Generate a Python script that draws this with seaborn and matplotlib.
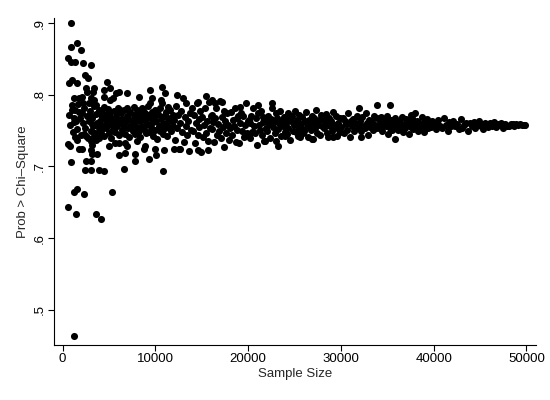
import pandas as pd
import matplotlib
matplotlib.use("Agg")
import matplotlib.pyplot as plt
import seaborn as sns

# --- values ---

# small samples, upper side
n_early = [935, 1580, 935, 2010, 540, 860, 1290, 2225, 3085, 2400,
           2720, 680, 1040, 1580, 4805, 2470, 2650, 3365, 3260, 4440,
           5160, 6050, 5800, 6955, 9385, 10720, 11070, 1215, 1750, 2120,
           3010, 3365, 4440, 5160, 5410, 8200, 9640, 9460, 10640, 2830,
           3550, 4440, 1040, 1750, 1215, 3010, 3900, 4270, 4980, 6235,
           5880, 6955, 7665, 8030, 8570, 8920, 10000, 10720, 11395]
p_early = [.900, .872, .866, .862, .851, .846, .846, .844, .841, .828,
           .823, .816, .821, .817, .818, .809, .804, .809, .804, .807,
           .809, .804, .802, .803, .807, .811, .802, .795, .796, .797,
           .795, .793, .797, .793, .795, .797, .795, .788, .793, .788,
           .786, .783, .779, .776, .767, .770, .774, .769, .776, .779,
           .774, .781, .783, .779, .781, .774, .779, .788, .783]

# small samples, lower side
n_low = [1215, 3120, 4270, 4620, 5160, 570, 750, 1580, 2290, 2550,
         1750, 2120, 3010, 3190, 3550, 3010, 3190, 3730, 3900, 4085,
         4980, 5700, 6050, 6770, 6955, 6050, 6770, 7850, 8030, 8740,
         8920, 10000, 10100, 10890, 11965, 860, 2550, 3010, 2400, 3010,
         3900, 4440, 6590, 7850, 9280, 10830, 1215, 1500, 2290, 5270,
         610, 1470, 3550, 4160, 1215]
p_low = [.762, .759, .755, .758, .762, .731, .729, .737, .745, .743,
         .725, .724, .735, .730, .737, .723, .718, .718, .740, .744,
         .728, .732, .733, .732, .729, .716, .719, .718, .735, .725,
         .728, .725, .716, .723, .725, .706, .707, .707, .695, .695,
         .695, .694, .696, .707, .710, .694, .665, .669, .662, .665,
         .643, .633, .633, .627, .463]

# core of the cloud below 12000
n_fill = [640, 820, 980, 1130, 1290, 1420, 1560, 1700, 1820, 1950,
          2080, 2200, 2330, 2460, 2580, 2700, 2810, 2940, 3060, 3180,
          3300, 3420, 3530, 3640, 3760, 3880, 3950, 2150, 1380, 3350,
          4060, 4150, 4240, 4330, 4420, 4510, 4600, 4700, 4790, 4880,
          4970, 5060, 5150, 5250, 5340, 5430, 5520, 5610, 5700, 5800,
          5890, 5980, 6070, 6160, 6260, 6350, 6440, 6530, 6630, 6720,
          6810, 6900, 7000, 7090, 7180, 7280, 7370, 7470, 7560, 7650,
          7740, 7830, 7930, 8020, 8110, 8210, 8300, 8390, 8490, 8580,
          8670, 8770, 8860, 8950, 9050, 9140, 9230, 9330, 9420, 9510,
          9610, 9700, 9790, 9890, 9980, 10070, 10170, 10260, 10350, 10450,
          10540, 10630, 10730, 10820, 10910, 11010, 11100, 11190, 11290, 11380,
          11470, 11570, 11660, 11750, 11850, 11940]
p_fill = [.772, .758, .785, .748, .779, .763, .752, .787, .768, .744,
          .775, .760, .781, .753, .770, .739, .764, .778, .750, .767,
          .757, .784, .746, .773, .761, .753, .779, .789, .741, .742,
          .763, .749, .776, .757, .768, .742, .771, .753, .764, .780,
          .746, .759, .771, .740, .765, .752, .777, .760, .748, .769,
          .756, .782, .744, .763, .774, .751, .766, .758, .779, .745,
          .762, .770, .753, .767, .741, .776, .757, .764, .749, .772,
          .760, .745, .768, .755, .774, .750, .763, .741, .770, .757,
          .779, .752, .765, .746, .772, .759, .784, .748, .767, .755,
          .776, .743, .762, .769, .751, .764, .738, .773, .756, .781,
          .749, .766, .758, .745, .771, .753, .776, .761, .742, .768,
          .755, .779, .750, .764, .757, .772]

# stray points around the band
n_out = [15480, 14590, 16090, 16450, 17170, 19135, 21040, 22540, 31930, 33940,
         35260, 37950, 37590, 12640, 14610, 15700, 21820, 23250, 23970, 25400,
         26910, 29170, 32140, 35800, 12300]
p_out = [.798, .790, .793, .788, .790, .783, .786, .788, .781, .786,
         .786, .775, .772, .725, .723, .723, .736, .729, .742, .743,
         .738, .741, .741, .738, .800]

# 12000 - 30000
n_mid = [12050, 12150, 12250, 12350, 12450, 12550, 12650, 12750, 12850, 12950,
         13050, 13150, 13250, 13350, 13450, 13550, 13650, 13750, 13850, 13950,
         14050, 14150, 14250, 14350, 14450, 14550, 14650, 14750, 14850, 14950,
         15050, 15150, 15250, 15350, 15450, 15550, 15650, 15750, 15850, 15950,
         16050, 16150, 16250, 16350, 16450, 16550, 16650, 16750, 16850, 16950,
         17050, 17150, 17250, 17350, 17450, 17550, 17650, 17750, 17850, 17950,
         18050, 18150, 18250, 18350, 18450, 18550, 18650, 18750, 18850, 18950,
         19050, 19150, 19250, 19350, 19450, 19550, 19650, 19750, 19850, 19950,
         20050, 20150, 20250, 20350, 20450, 20550, 20650, 20750, 20850, 20950,
         21050, 21150, 21250, 21350, 21450, 21550, 21650, 21750, 21850, 21950,
         22050, 22150, 22250, 22350, 22450, 22550, 22650, 22750, 22850, 22950,
         23050, 23150, 23250, 23350, 23450, 23550, 23650, 23750, 23850, 23950,
         24050, 24150, 24250, 24350, 24450, 24550, 24650, 24750, 24850, 24950,
         25050, 25150, 25250, 25350, 25450, 25550, 25650, 25750, 25850, 25950,
         26050, 26150, 26250, 26350, 26450, 26550, 26650, 26750, 26850, 26950,
         27050, 27150, 27250, 27350, 27450, 27550, 27650, 27750, 27850, 27950,
         28050, 28150, 28250, 28350, 28450, 28550, 28650, 28750, 28850, 28950,
         29050, 29150, 29250, 29350, 29450, 29550, 29650, 29750, 29850, 29950]
p_mid = [.765, .737, .784, .753, .772, .725, .760, .777, .748, .796,
         .734, .769, .756, .788, .744, .763, .721, .774, .751, .781,
         .750, .772, .733, .761, .788, .744, .766, .755, .777, .720,
         .769, .741, .758, .782, .747, .764, .736, .790, .753, .771,
         .772, .752, .762, .734, .767, .781, .744, .759, .749, .791,
         .739, .769, .755, .777, .727, .764, .747, .774, .758, .737,
         .754, .776, .744, .765, .757, .782, .734, .767, .751, .771,
         .732, .761, .774, .749, .770, .741, .758, .789, .746, .763,
         .765, .740, .760, .771, .748, .781, .756, .746, .768, .730,
         .775, .758, .751, .777, .744, .762, .769, .736, .764, .753,
         .750, .771, .759, .740, .766, .782, .755, .762, .746, .775,
         .736, .768, .752, .760, .778, .743, .765, .757, .769, .748,
         .761, .745, .774, .754, .767, .737, .763, .770, .750, .758,
         .778, .748, .765, .756, .772, .741, .759, .752, .769, .746,
         .749, .763, .776, .755, .741, .765, .759, .751, .770, .738,
         .762, .767, .753, .779, .747, .758, .765, .744, .772, .757,
         .766, .753, .760, .773, .746, .762, .741, .767, .756, .764,
         .749, .776, .755, .758, .770, .743, .761, .751, .767, .748]

# 30000 - 40000
n_late = [30060, 30190, 30310, 30440, 30560, 30690, 30810, 30940,
          31060, 31190, 31310, 31440, 31560, 31690, 31810, 31940,
          32060, 32190, 32310, 32440, 32560, 32690, 32810, 32940,
          33060, 33190, 33310, 33440, 33560, 33690, 33810, 33940,
          34060, 34190, 34310, 34440, 34560, 34690, 34810, 34940,
          35060, 35190, 35310, 35440, 35560, 35690, 35810, 35940,
          36060, 36190, 36310, 36440, 36560, 36690, 36810, 36940,
          37060, 37190, 37310, 37440, 37560, 37690, 37810, 37940,
          38060, 38190, 38310, 38440, 38560, 38690, 38810, 38940,
          39060, 39190, 39310, 39440, 39560, 39690, 39810, 39940]
p_late = [.755, .768, .746, .763, .759, .751, .774, .741,
          .764, .756, .766, .749, .761, .771, .753, .758,
          .763, .749, .769, .757, .753, .774, .760, .744,
          .765, .755, .762, .751, .771, .758, .754, .767,
          .753, .761, .769, .749, .758, .764, .756, .771,
          .745, .762, .754, .765, .751, .759, .767, .757,
          .761, .751, .764, .756, .769, .748, .759, .754,
          .766, .758, .745, .763, .755, .767, .752, .760,
          .757, .764, .750, .761, .754, .769, .759, .748,
          .763, .756, .766, .753, .760, .755, .764, .758]

# 40000 - 50000
n_end = [40100, 40300, 40500, 40700, 40900, 41100, 41300, 41500, 41700, 41900,
         42100, 42300, 42500, 42700, 42900, 43100, 43300, 43500, 43700, 43900,
         44100, 44300, 44500, 44700, 44900, 45100, 45300, 45500, 45700, 45900,
         46100, 46300, 46500, 46700, 46900, 47100, 47300, 47500, 47700, 47900,
         48100, 48300, 48500, 48700, 48900, 49100, 49300, 49500, 49700, 49900]
p_end = [.761, .752, .765, .757, .754, .768, .758, .750, .762, .756,
         .763, .756, .759, .752, .766, .754, .758, .761, .750, .760,
         .756, .7615, .754, .7594, .764, .757, .7517, .7608, .7584, .7548,
         .7604, .7567, .7621, .7545, .7585, .7577, .761, .7537, .7596, .7561,
         .7563, .7598, .7585, .7563, .759, .7576, .759, .7574, .7582, .758]

df = pd.DataFrame({
    "Sample Size": n_early + n_low + n_fill + n_out + n_mid + n_late + n_end,
    "Prob": p_early + p_low + p_fill + p_out + p_mid + p_late + p_end,
})

sns.set_style("white")
plt.rcParams["font.family"] = ["Liberation Sans", "DejaVu Sans"]

fig = plt.figure(figsize=(5.5, 4), dpi=100)
ax = fig.add_axes([0.098, 0.1375, 0.876, 0.8175])
sns.scatterplot(data=df, x="Sample Size", y="Prob", color="black",
                s=26, linewidth=0, ax=ax)

ax.set_xlim(-940, 51000)
ax.set_ylim(0.451, 0.907)
ax.set_xticks([0, 10000, 20000, 30000, 40000, 50000])
ax.set_xticklabels(["0", "10000", "20000", "30000", "40000", "50000"])
ax.set_yticks([.5, .6, .7, .8, .9])
ax.set_yticklabels([".5", ".6", ".7", ".8", ".9"], rotation=90, va="center")
ax.set_xlabel("Sample Size", fontsize=9.5, labelpad=2)
ax.set_ylabel("Prob > Chi\u2013Square", fontsize=9.5, labelpad=3)
sns.despine(ax=ax)
for s in ["left", "bottom"]:
    ax.spines[s].set_color("black")
    ax.spines[s].set_linewidth(0.8)
ax.tick_params(direction="out", length=4, width=0.8, colors="black",
               labelsize=9.5, pad=2, left=True, bottom=True)

fig.savefig("out.png", dpi=100)
